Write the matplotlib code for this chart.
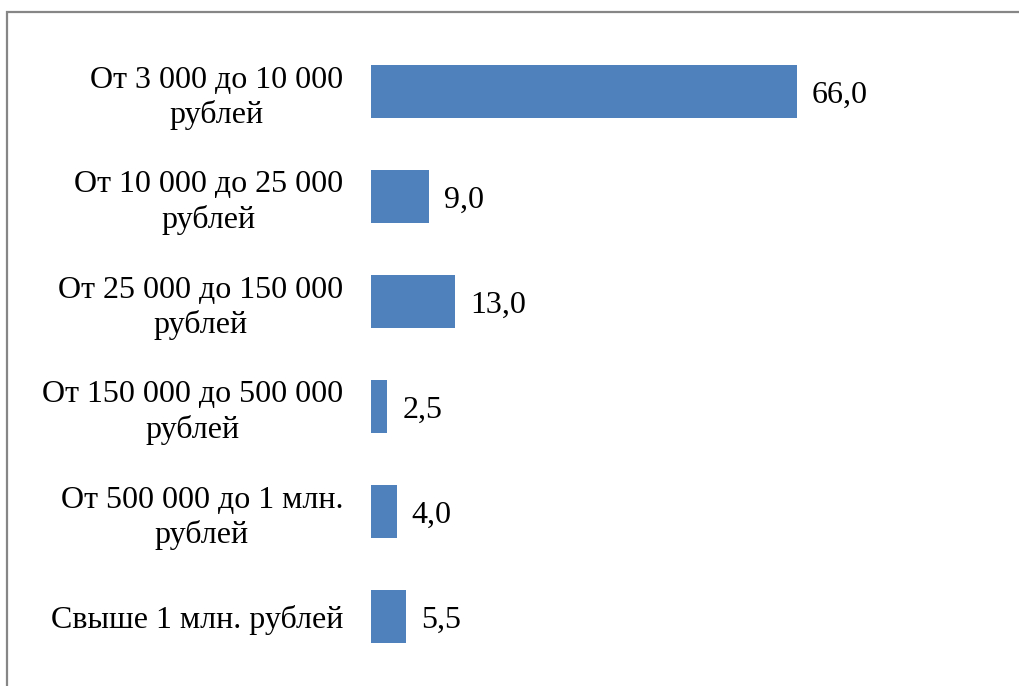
import matplotlib
matplotlib.use("Agg")
import matplotlib.pyplot as plt
from matplotlib.patches import Rectangle

CATEGORIES = [
    "От 3 000 до 10 000\nрублей",
    "От 10 000 до 25 000\nрублей",
    "От 25 000 до 150 000\nрублей",
    "От 150 000 до 500 000\nрублей",
    "От 500 000 до 1 млн.\nрублей",
    "Свыше 1 млн. рублей",
]
VALUES = [66.0, 9.0, 13.0, 2.5, 4.0, 5.5]
BAR_COLOR = "#4F81BD"

plt.rcParams["font.family"] = ["Liberation Serif", "DejaVu Serif"]

W, H = 1020, 686
fig = plt.figure(figsize=(W / 100, H / 100), dpi=100)

# outer chart frame (only left and top edges fall inside the image)
fig.patches.append(Rectangle((7.5 / W, -0.1), 1.2, (H - 12) / H + 0.1,
                             transform=fig.transFigure, fill=False,
                             edgecolor="#868686", linewidth=1.6))

ax = fig.add_axes([371 / W, 17 / H, 639 / W, 630 / H])
y = list(range(len(CATEGORIES)))
ax.barh(y, VALUES, height=0.505, color=BAR_COLOR)
ax.set_xlim(0, 99)
ax.set_ylim(len(CATEGORIES) - 0.5, -0.5)

ax.set_yticks(y)
ax.set_yticklabels(CATEGORIES, fontsize=23, multialignment="center",
                   linespacing=1.25)
ax.tick_params(axis="y", length=0, pad=20)
ax.set_xticks([])
for s in ax.spines.values():
    s.set_visible(False)

for yi, v in zip(y, VALUES):
    ax.annotate(f"{v:.1f}".replace(".", ","), (v, yi), xytext=(15, 0),
                textcoords="offset pixels", va="center_baseline", ha="left",
                fontsize=23)

fig.savefig("out.png", dpi=100)
